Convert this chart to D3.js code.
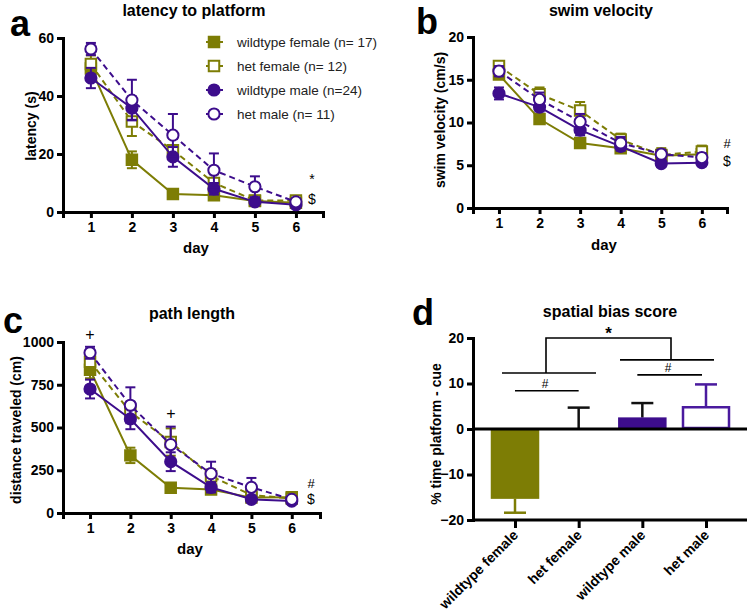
<!DOCTYPE html>
<html><head><meta charset="utf-8">
<script src="https://cdn.jsdelivr.net/npm/d3@7"></script>
<style>
body{margin:0;background:#fff;}
text{font-family:"Liberation Sans",Arial,sans-serif;}
</style></head>
<body><svg id="c" width="750" height="612"></svg>
<script>
// ---------- data ----------
const days = [1, 2, 3, 4, 5, 6];
const groups = ["wildtype female", "het female", "wildtype male", "het male"];
const legendLabels = ["wildtype female (n= 17)", "het female (n= 12)", "wildtype male (n=24)", "het male (n= 11)"];

// latency to platform (s)
const latWtF = [49.5, 18, 6.2, 5.8, 3.8, 3.2];
const latWtFErr = [2, 2.9, 0.8, 1, 0.5, 0.5];
const latHetF = [51, 31.2, 21.3, 10, 4, 4];
const latHetFErr = [3, 5, 1.5, 3, 1, 1];
const latWtM = [46.2, 35.8, 19, 8, 3.5, 2.5];
const latWtMErr = [3.5, 4, 3.4, 2, 1, 0.5];
const latHetM = [56.2, 38.6, 26.5, 14.4, 8.7, 3.5];
const latHetMErr = [2.1, 7, 7.3, 5.8, 3.6, 1];

// swim velocity (cm/s)
const velWtF = [15.6, 10.4, 7.6, 7.0, 6.1, 6.3];
const velWtFErr = [0.4, 0.5, 0.5, 0.4, 0.3, 0.4];
const velHetF = [16.6, 13.3, 11.4, 8.0, 6.2, 6.6];
const velHetFErr = [0.5, 0.8, 1.0, 0.7, 0.8, 0.7];
const velWtM = [13.4, 11.8, 9.1, 7.2, 5.2, 5.3];
const velWtMErr = [0.7, 0.5, 0.6, 0.5, 0.4, 0.4];
const velHetM = [16.0, 12.7, 10.1, 7.6, 6.3, 5.9];
const velHetMErr = [0.6, 0.8, 0.9, 0.7, 0.5, 0.5];

// path length (cm)
const pathWtF = [838, 337, 148, 138, 90, 92];
const pathWtFErr = [50, 45, 22, 15, 10, 10];
const pathHetF = [885, 590, 415, 215, 105, 85];
const pathHetFErr = [45, 60, 80, 40, 20, 15];
const pathWtM = [725, 550, 300, 150, 80, 70];
const pathWtMErr = [55, 60, 55, 30, 15, 10];
const pathHetM = [937, 630, 400, 230, 150, 80];
const pathHetMErr = [35, 105, 105, 70, 55, 15];

// spatial bias score (% time platform - cue)
const biasMean = [-15.3, 0, 2.5, 5.0];
const biasErr = [3.1, 4.7, 3.2, 4.8];

const latTicks = [0, 20, 40, 60];
const velTicks = [0, 5, 10, 15, 20];
const pathTicks = [0, 250, 500, 750, 1000];
const biasTicks = [-20, -10, 0, 10, 20];

// ---------- styles ----------
const OLIVE = "#7d7d05";
const PURPLE = "#3d0d8c";
const seriesStyle = [
  {color: OLIVE, shape: "square", open: false, dash: null},
  {color: OLIVE, shape: "square", open: true, dash: "6,4"},
  {color: PURPLE, shape: "circle", open: false, dash: null},
  {color: PURPLE, shape: "circle", open: true, dash: "6,4"}
];

const svg = d3.select("#c");

function styleAxis(g) {
  g.selectAll(".domain").attr("stroke", "#000").attr("stroke-width", 3);
  g.selectAll(".tick line").attr("stroke", "#000").attr("stroke-width", 3);
  g.selectAll(".tick text").attr("font-size", 14).attr("font-weight", "bold").attr("fill", "#000")
    .style("font-family", "'Liberation Sans', Arial, sans-serif");
}

function marker(sel, st) {
  if (st.shape === "square") {
    sel.append("path").attr("d", d3.symbol(d3.symbolSquare, 110)());
  } else {
    sel.append("circle").attr("r", 5.6);
  }
  sel.select(":last-child")
    .attr("fill", st.open ? "#fff" : st.color)
    .attr("stroke", st.color).attr("stroke-width", 2);
}

function linePanel(cfg) {
  const x = d3.scaleLinear().domain(cfg.xDomain).range(cfg.xRange);
  const y = d3.scaleLinear().domain(cfg.yDomain).range(cfg.yRange);
  const g = svg.append("g");

  // axes
  const xa = g.append("g").attr("transform", `translate(0,${cfg.yRange[0]})`)
    .call(d3.axisBottom(x).tickValues(days).tickFormat(d3.format("d")).tickSizeOuter(0).tickSize(6).tickPadding(4));
  styleAxis(xa);
  const ya = g.append("g").attr("transform", `translate(${cfg.xRange[0]},0)`)
    .call(d3.axisLeft(y).tickValues(cfg.ticks).tickFormat(d3.format("d")).tickSizeOuter(0).tickSize(6).tickPadding(3));
  styleAxis(ya);

  // series
  cfg.series.forEach((s, i) => {
    const st = seriesStyle[i];
    const data = days.map((d, k) => ({d, v: s.mean[k], e: s.err[k]}));
    const sg = g.append("g");
    sg.append("path").datum(data)
      .attr("d", d3.line().x(p => x(p.d)).y(p => y(p.v)))
      .attr("fill", "none").attr("stroke", st.color).attr("stroke-width", 2)
      .attr("stroke-dasharray", st.dash);
    const eb = sg.selectAll(".eb").data(data).enter().append("g");
    eb.append("line").attr("x1", p => x(p.d)).attr("x2", p => x(p.d))
      .attr("y1", p => y(p.v - p.e)).attr("y2", p => y(p.v + p.e));
    eb.append("line").attr("x1", p => x(p.d) - 5).attr("x2", p => x(p.d) + 5)
      .attr("y1", p => y(p.v + p.e)).attr("y2", p => y(p.v + p.e));
    eb.append("line").attr("x1", p => x(p.d) - 5).attr("x2", p => x(p.d) + 5)
      .attr("y1", p => y(p.v - p.e)).attr("y2", p => y(p.v - p.e));
    eb.selectAll("line").attr("stroke", st.color).attr("stroke-width", 2);
    sg.selectAll(".mk").data(data).enter().append("g")
      .attr("transform", p => `translate(${x(p.d)},${y(p.v)})`)
      .each(function () { marker(d3.select(this), st); });
  });

  // labels
  g.append("text").attr("x", cfg.titleX).attr("y", cfg.titleY).attr("text-anchor", "middle")
    .attr("font-size", 16).attr("font-weight", "bold").text(cfg.title);
  g.append("text").attr("x", cfg.dayX).attr("y", cfg.dayY).attr("text-anchor", "middle")
    .attr("font-size", 15).attr("font-weight", "bold").text("day");
  g.append("text").attr("transform", `translate(${cfg.ylabX},${cfg.ylabY}) rotate(-90)`)
    .attr("text-anchor", "middle").attr("font-size", 14).attr("font-weight", "bold").text(cfg.ylabel);
  g.append("text").attr("x", cfg.letterX).attr("y", cfg.letterY)
    .attr("font-size", 36).attr("font-weight", "bold").text(cfg.letter);
  (cfg.notes || []).forEach(n => {
    g.append("text").attr("x", n.x).attr("y", n.y).attr("text-anchor", "middle")
      .attr("font-size", n.size || 14).text(n.t);
  });
  return {x, y, g};
}

// ---------- panel a ----------
linePanel({
  xDomain: [0.32, 6.66], xRange: [63, 323], yDomain: [0, 60], yRange: [212, 38], ticks: latTicks,
  series: [
    {mean: latWtF, err: latWtFErr}, {mean: latHetF, err: latHetFErr},
    {mean: latWtM, err: latWtMErr}, {mean: latHetM, err: latHetMErr}
  ],
  title: "latency to platform", titleX: 194, titleY: 16,
  dayX: 196, dayY: 253, ylabel: "latency (s)", ylabX: 36, ylabY: 126,
  letter: "a", letterX: 10, letterY: 36,
  notes: [{t: "*", x: 312, y: 184}, {t: "$", x: 312, y: 204}]
});
// legend
legendLabels.forEach((lab, i) => {
  const st = seriesStyle[i];
  const ly = 42 + i * 24;
  const lg = svg.append("g").attr("transform", `translate(214,${ly})`);
  lg.append("line").attr("x1", -8).attr("x2", 9).attr("y1", 0).attr("y2", 0)
    .attr("stroke", st.color).attr("stroke-width", 2).attr("stroke-dasharray", st.dash ? "4,3" : null);
  const mg = lg.append("g");
  marker(mg, st);
  lg.append("text").attr("x", 23).attr("y", 5).attr("font-size", 13.5).attr("fill", "#222").text(lab);
});

// ---------- panel b ----------
linePanel({
  xDomain: [0.36, 6.62], xRange: [473, 727], yDomain: [0, 20], yRange: [208, 37], ticks: velTicks,
  series: [
    {mean: velWtF, err: velWtFErr}, {mean: velHetF, err: velHetFErr},
    {mean: velWtM, err: velWtMErr}, {mean: velHetM, err: velHetMErr}
  ],
  title: "swim velocity", titleX: 601, titleY: 16,
  dayX: 604, dayY: 250, ylabel: "swim velocity (cm/s)", ylabX: 445, ylabY: 120,
  letter: "b", letterX: 416, letterY: 34,
  notes: [{t: "#", x: 727, y: 148, size: 13}, {t: "$", x: 727, y: 166}]
});

// ---------- panel c ----------
linePanel({
  xDomain: [0.33, 6.7], xRange: [63, 320], yDomain: [0, 1000], yRange: [513, 342], ticks: pathTicks,
  series: [
    {mean: pathWtF, err: pathWtFErr}, {mean: pathHetF, err: pathHetFErr},
    {mean: pathWtM, err: pathWtMErr}, {mean: pathHetM, err: pathHetMErr}
  ],
  title: "path length", titleX: 192, titleY: 319,
  dayX: 190, dayY: 554, ylabel: "distance traveled (cm)", ylabX: 21, ylabY: 430,
  letter: "c", letterX: 3, letterY: 333,
  notes: [{t: "+", x: 90, y: 340, size: 16}, {t: "+", x: 171, y: 419, size: 16},
          {t: "#", x: 311, y: 488, size: 13}, {t: "$", x: 311, y: 504}]
});

// ---------- panel d ----------
(function () {
  const xd = d3.scalePoint().domain(groups).range([515, 706]);
  const yd = d3.scaleLinear().domain([-20, 20]).range([520, 338]);
  const g = svg.append("g");
  const bw = 48;
  const barFill = [OLIVE, "#fff", PURPLE, "#fff"];
  const barStroke = [OLIVE, OLIVE, PURPLE, "#4a1a9e"];
  const errColor = [OLIVE, "#111", "#111", "#4a1a9e"];

  // bars
  groups.forEach((gr, i) => {
    const v = biasMean[i];
    const top = yd(Math.max(0, v)), bot = yd(Math.min(0, v));
    const ex = xd(gr);
    const tip = v + (v < 0 ? -biasErr[i] : biasErr[i]);
    g.append("line").attr("x1", ex).attr("x2", ex).attr("y1", yd(v)).attr("y2", yd(tip))
      .attr("stroke", errColor[i]).attr("stroke-width", 2.5);
    g.append("line").attr("x1", ex - 11).attr("x2", ex + 11).attr("y1", yd(tip)).attr("y2", yd(tip))
      .attr("stroke", errColor[i]).attr("stroke-width", 2.5);
    if (bot - top > 0.5) {
      g.append("rect").attr("x", ex - bw / 2 + 1).attr("y", top + 1).attr("width", bw - 2).attr("height", bot - top - 2)
        .attr("fill", barFill[i]).attr("stroke", barStroke[i]).attr("stroke-width", 2.5);
    }
  });

  // axes
  const ya = g.append("g").attr("transform", "translate(473,0)")
    .call(d3.axisLeft(yd).tickValues(biasTicks).tickSizeOuter(0).tickSize(6).tickPadding(3));
  styleAxis(ya);
  const xa = g.append("g").attr("transform", `translate(0,${yd(-20)})`)
    .call(d3.axisBottom(xd).tickSizeOuter(0).tickSize(8).tickFormat(""));
  styleAxis(xa);
  xa.select(".domain").attr("d", `M473,0H747`);
  g.append("line").attr("x1", 473).attr("x2", 747).attr("y1", yd(0)).attr("y2", yd(0))
    .attr("stroke", "#000").attr("stroke-width", 3);

  groups.forEach(gr => {
    g.append("text").attr("transform", `translate(${xd(gr) + 4},${yd(-20) + 16}) rotate(-45)`)
      .attr("text-anchor", "end").attr("font-size", 14).attr("font-weight", "bold").text(gr);
  });

  // significance brackets
  const br = g.append("g").attr("stroke", "#000").attr("stroke-width", 1.6).attr("fill", "none");
  const brTop = yd(20);
  const leftY = yd(12.3), rightY = yd(15.2);
  const lMid = 546, rMid = 671;
  br.append("path").attr("d", `M${lMid},${leftY}V${brTop}H${rMid}V${rightY}`);
  br.append("line").attr("x1", 502).attr("x2", 596).attr("y1", leftY).attr("y2", leftY);
  br.append("line").attr("x1", 620).attr("x2", 714).attr("y1", rightY).attr("y2", rightY);
  const h1 = yd(8.4), h2 = yd(11.9);
  br.append("line").attr("x1", xd(groups[0])).attr("x2", xd(groups[1])).attr("y1", h1).attr("y2", h1);
  br.append("line").attr("x1", xd(groups[2]) - 5).attr("x2", xd(groups[3]) - 4).attr("y1", h2).attr("y2", h2);
  g.append("text").attr("x", (lMid + rMid) / 2).attr("y", brTop + 1).attr("text-anchor", "middle")
    .attr("font-size", 17).attr("font-weight", "bold").text("*");
  g.append("text").attr("x", 545).attr("y", h1 - 3).attr("text-anchor", "middle").attr("font-size", 12).text("#");
  g.append("text").attr("x", 668).attr("y", h2 - 3).attr("text-anchor", "middle").attr("font-size", 12).text("#");

  g.append("text").attr("x", 610).attr("y", 317).attr("text-anchor", "middle")
    .attr("font-size", 16).attr("font-weight", "bold").text("spatial bias score");
  g.append("text").attr("transform", "translate(441,434) rotate(-90)")
    .attr("text-anchor", "middle").attr("font-size", 14).attr("font-weight", "bold").text("% time platform - cue");
  g.append("text").attr("x", 412).attr("y", 325).attr("font-size", 36).attr("font-weight", "bold").text("d");
})();
</script></body></html>
